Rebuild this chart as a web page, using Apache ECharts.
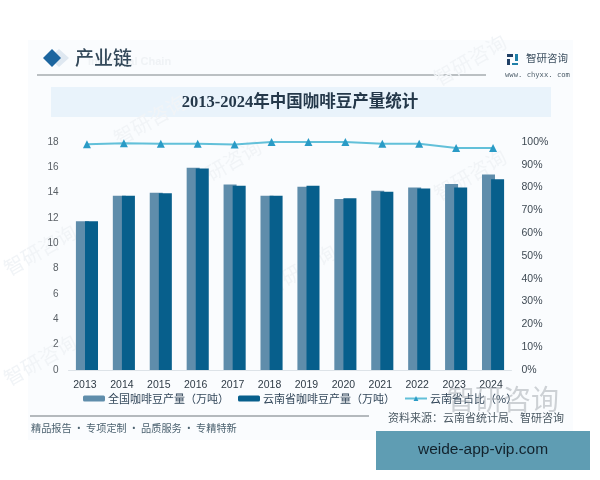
<!DOCTYPE html>
<html>
<head>
<meta charset="utf-8">
<style>html,body{margin:0;padding:0;background:#fff}#chart{width:600px;height:480px}</style>
<script src="https://cdn.jsdelivr.net/npm/echarts@6/dist/echarts.min.js"></script>
</head>
<body>
<div id="chart"></div>
<script>
// 2013-2024 coffee bean output, national and Yunnan, with Yunnan's share
const years = ['2013','2014','2015','2016','2017','2018','2019','2020','2021','2022','2023','2024'];
const nationalOutput = [11.74,13.76,14.0,15.97,14.65,13.76,14.47,13.5,14.15,14.4,14.68,15.44];
const yunnanOutput = [11.74,13.76,13.95,15.9,14.55,13.76,14.55,13.55,14.08,14.33,14.4,15.05];
const yunnanShare = [99,99.5,99.2,99.2,98.9,100,100,100,99.2,99.2,97.4,97.4];

const cjk = '"Noto Sans CJK SC","Noto Sans",sans-serif';
const watermarks = [
  ['智研咨询', 150, 120, 30], ['智研咨询', 225, 165, 30], ['智研咨询', 470, 175, 30],
  ['智研咨询', 40, 250, 30], ['智研咨询', 300, 270, 30], ['智研咨询', 470, 60, 30], ['智研咨询', 40, 360, 30]
];

const chart = echarts.init(document.getElementById('chart'), null, { renderer: 'canvas' });
chart.setOption({
  animation: false,
  backgroundColor: '#ffffff',
  textStyle: { fontFamily: cjk },
  grid: { left: 68.5, right: 88.5, top: 142, bottom: 110 },
  legend: {
    left: 78, top: 388, itemWidth: 22, itemHeight: 6, itemGap: 9,
    textStyle: { fontSize: 11, color: '#33475a', padding: [0, 0, 0, -2] },
    data: ['全国咖啡豆产量（万吨）', '云南省咖啡豆产量（万吨）', '云南省占比（%）']
  },
  xAxis: {
    type: 'category', data: years,
    axisLine: { lineStyle: { color: '#dde3e8' } }, axisTick: { show: false },
    axisLabel: { fontSize: 10.5, color: '#2f3b46', margin: 10, padding: [0, 4, 0, 0], fontFamily: 'Liberation Sans' }
  },
  yAxis: [
    { type: 'value', min: 0, max: 18, interval: 2, splitLine: { show: false },
      axisLine: { show: false }, axisTick: { show: false },
      axisLabel: { fontSize: 10, color: '#5a6066', margin: 10, fontFamily: 'Liberation Sans' } },
    { type: 'value', min: 0, max: 100, interval: 10, splitLine: { show: false },
      axisLine: { show: false }, axisTick: { show: false },
      axisLabel: { fontSize: 10.5, color: '#3f4a54', margin: 10, formatter: '{value}%', fontFamily: 'Liberation Sans' } }
  ],
  series: [
    { name: '全国咖啡豆产量（万吨）', type: 'bar', data: nationalOutput, barWidth: 13, barGap: '-30%',
      itemStyle: { color: '#5f8dab' } },
    { name: '云南省咖啡豆产量（万吨）', type: 'bar', data: yunnanOutput, barWidth: 13,
      itemStyle: { color: '#075f8c' } },
    { name: '云南省占比（%）', type: 'line', yAxisIndex: 1, data: yunnanShare,
      symbol: 'triangle', symbolSize: 8,
      lineStyle: { color: '#62c0d9', width: 2 }, itemStyle: { color: '#2a9bc6' } }
  ],
  graphic: [
    // page panel and headers sit behind the plot
    { type: 'rect', z: -10, silent: true, shape: { x: 28, y: 40, width: 545, height: 400 }, style: { fill: '#fafcfe' } },
    { type: 'rect', z: -9, silent: true, shape: { x: 51, y: 87, width: 500, height: 30 }, style: { fill: '#e9f3fb' } },
    { type: 'line', z: -9, silent: true, shape: { x1: 37, y1: 75, x2: 486, y2: 75 }, style: { stroke: '#7d8488', lineWidth: 1 } },
    { type: 'line', z: -9, silent: true, shape: { x1: 30, y1: 416, x2: 369, y2: 416 }, style: { stroke: '#6f777c', lineWidth: 1 } },
    { type: 'polygon', z: -8, silent: true, shape: { points: [[59, 49], [69, 58], [59, 67], [49, 58]] }, style: { fill: '#dfe8f1' } },
    { type: 'polygon', z: -7, silent: true, shape: { points: [[52, 49], [61, 58], [52, 67], [43, 58]] }, style: { fill: '#1c659f' } },
    { type: 'text', z: 5, silent: true, style: { x: 75, y: 58, text: '产业链', font: '500 19px ' + cjk, fill: '#34495a', verticalAlign: 'middle' } },
    { type: 'text', z: -8, silent: true, style: { x: 88, y: 62, text: 'Industrial Chain', font: 'bold 11px "Liberation Sans"', fill: '#eff2f5', verticalAlign: 'middle' } },
    { type: 'text', z: 5, silent: true, style: { x: 300, y: 103, text: '2013-2024年中国咖啡豆产量统计', font: 'bold 16.5px "Liberation Serif",' + cjk, fill: '#24384a', align: 'center', verticalAlign: 'middle' } },
    // brand mark
    { type: 'rect', z: 5, silent: true, shape: { x: 507, y: 54, width: 6, height: 3 }, style: { fill: '#1f3f66' } },
    { type: 'rect', z: 5, silent: true, shape: { x: 507, y: 59, width: 3, height: 6 }, style: { fill: '#1f3f66' } },
    { type: 'rect', z: 5, silent: true, shape: { x: 515, y: 54, width: 3, height: 7 }, style: { fill: '#1f7fa8' } },
    { type: 'rect', z: 5, silent: true, shape: { x: 512, y: 63, width: 6, height: 2 }, style: { fill: '#1f7fa8' } },
    { type: 'text', z: 5, silent: true, style: { x: 526, y: 58, text: '智研咨询', font: '10.5px ' + cjk, fill: '#3d5060', verticalAlign: 'middle' } },
    { type: 'text', z: 5, silent: true, style: { x: 505, y: 75, text: 'www. chyxx. com', font: '7.2px "DejaVu Sans Mono"', fill: '#50606c', verticalAlign: 'middle' } },
    // faint repeated marks on the panel
    ...watermarks.map(([text, x, y, rot]) => ({
      type: 'text', z: -6, silent: true, x, y, rotation: rot * Math.PI / 180,
      style: { text, font: '20px ' + cjk, fill: '#f1f4f7', align: 'center', verticalAlign: 'middle' }
    })),
    // footer
    { type: 'text', z: 5, silent: true, style: { x: 31, y: 428, text: '精品报告\u2009·\u2009专项定制\u2009·\u2009品质服务\u2009·\u2009专精特新', font: '10.2px ' + cjk, fill: '#4c6270', verticalAlign: 'middle' } },
    { type: 'text', z: 6, silent: true, style: { x: 388, y: 418, text: '资料来源：云南省统计局、智研咨询', font: '11px ' + cjk, fill: '#4c5a64', verticalAlign: 'middle' } },
    { type: 'text', z: 6, silent: true, style: { x: 559, y: 399, text: '智研咨询', font: '28px ' + cjk, fill: 'rgba(150,158,165,0.45)', align: 'right', verticalAlign: 'middle' } },
    { type: 'rect', z: 7, silent: true, shape: { x: 376, y: 431, width: 214, height: 39 }, style: { fill: '#5f9db3' } },
    { type: 'text', z: 8, silent: true, style: { x: 483, y: 450, text: 'weide-app-vip.com', font: '15.5px "Liberation Sans"', fill: '#12222c', align: 'center', verticalAlign: 'middle' } }
  ]
});
</script>
</body>
</html>
